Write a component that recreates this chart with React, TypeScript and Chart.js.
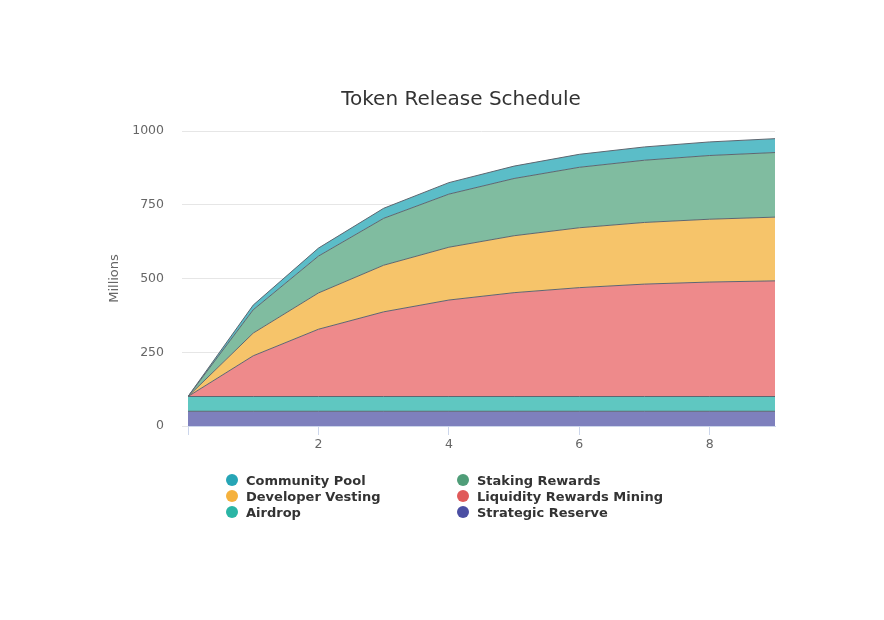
import React, { useEffect, useRef } from "react";
import { Chart, registerables } from "chart.js";

Chart.register(...registerables);

const chartTitle = "Token Release Schedule";
const yAxisTitle = "Millions";
const years = [0, 1, 2, 3, 4, 5, 6, 7, 8, 9];
const yTicks = [0, 250, 500, 750, 1000];
const xTicks = [0, 2, 4, 6, 8];

const strategicReserve = [50, 50, 50, 50, 50, 50, 50, 50, 50, 50];
const airdrop = [50, 50, 50, 50, 50, 50, 50, 50, 50, 50];
const liquidityRewardsMining = [0, 138, 228, 287, 327, 352, 369, 381, 388, 392];
const developerVesting = [0, 77, 123, 158, 179, 193, 203, 209, 213, 216];
const stakingRewards = [0, 79, 125, 159, 180, 194, 205, 211, 216, 219];
const communityPool = [0, 16, 27, 34, 39, 42, 44, 45, 46, 47];

const seriesNames = [
  "Strategic Reserve",
  "Airdrop",
  "Liquidity Rewards Mining",
  "Developer Vesting",
  "Staking Rewards",
  "Community Pool",
];
const seriesValues = [
  strategicReserve,
  airdrop,
  liquidityRewardsMining,
  developerVesting,
  stakingRewards,
  communityPool,
];
const fillColors = ["#7e80bd", "#5fc7c1", "#ee8a8b", "#f6c46a", "#80bca0", "#5bbdc8"];
const dotColors = ["#4b4fa3", "#2ab5a5", "#e05a5a", "#f5b13d", "#4f9d78", "#26a5b6"];

// legend layout: [seriesIndex, column, row]
const legendOrder = [
  [5, 0, 0],
  [4, 1, 0],
  [3, 0, 1],
  [2, 1, 1],
  [1, 0, 2],
  [0, 1, 2],
];

const FONT = "'DejaVu Sans', sans-serif";

export default function App() {
  const canvasRef = useRef<HTMLCanvasElement | null>(null);

  useEffect(() => {
    document.body.style.margin = "0";
    const canvas = canvasRef.current;
    if (!canvas) return;
    const datasets = seriesNames.map((name, i) => ({
      label: name,
      data: years.map((x, j) => ({ x, y: seriesValues[i][j] })),
      backgroundColor: fillColors[i],
      borderColor: "#5d6670",
      borderWidth: 1,
      pointRadius: 0,
      tension: 0,
      fill: i === 0 ? "origin" : "-1",
    }));
    const chart = new Chart(canvas, {
      type: "line",
      data: { datasets },
      options: {
        animation: false,
        responsive: false,
        maintainAspectRatio: false,
        layout: { padding: { top: 131, left: 100, right: 109, bottom: 164 } },
        plugins: {
          legend: { display: false },
          title: { display: false },
          tooltip: { enabled: false },
        },
        scales: {
          x: {
            type: "linear",
            min: 0,
            max: 9,
            afterBuildTicks: (scale: any) => {
              scale.ticks = xTicks.map((v) => ({ value: v }));
            },
            afterFit: (scale: any) => {
              scale.height = 30;
            },
            grid: {
              drawOnChartArea: false,
              drawTicks: true,
              tickLength: 9,
              color: "#ccd6eb",
            },
            border: { display: true, color: "#ccd6eb" },
            ticks: {
              padding: 2,
              color: "#666666",
              font: { family: FONT, size: 12.5 },
              maxRotation: 0,
              callback: (v: any) => (v === 0 ? "" : String(v)),
            },
          },
          y: {
            type: "linear",
            stacked: true,
            min: 0,
            max: 1000,
            afterBuildTicks: (scale: any) => {
              scale.ticks = yTicks.map((v) => ({ value: v }));
            },
            afterFit: (scale: any) => {
              scale.width = 88;
            },
            grid: {
              color: "#e6e6e6",
              drawTicks: true,
              tickLength: 6,
            },
            border: { display: false },
            ticks: {
              padding: 18,
              color: "#666666",
              font: { family: FONT, size: 12.5 },
              callback: (v: any) => String(v),
            },
            title: {
              display: true,
              text: yAxisTitle,
              color: "#666666",
              font: { family: FONT, size: 13 },
              padding: { top: 7, bottom: 0 },
            },
          },
        },
      },
    } as any);
    return () => chart.destroy();
  }, []);

  return (
    <div style={{ position: "absolute", left: 0, top: 0, width: 884, height: 620, background: "#ffffff" }}>
      <canvas ref={canvasRef} width={884} height={620} style={{ position: "absolute", left: 0, top: 0 }} />
      <div
        style={{
          position: "absolute",
          left: 261,
          width: 400,
          top: 85,
          textAlign: "center",
          fontFamily: FONT,
          fontSize: 20,
          color: "#333333",
          lineHeight: "26px",
        }}
      >
        {chartTitle}
      </div>
      {legendOrder.map(([idx, col, row]) => (
        <div
          key={idx}
          style={{
            position: "absolute",
            left: col === 0 ? 226 : 457,
            top: 472 + row * 16,
            height: 16,
            display: "flex",
            alignItems: "center",
            fontFamily: FONT,
            fontWeight: "bold",
            fontSize: 13,
            color: "#333333",
            whiteSpace: "nowrap",
          }}
        >
          <span
            style={{
              display: "inline-block",
              width: 12,
              height: 12,
              borderRadius: "50%",
              background: dotColors[idx],
              marginRight: 8,
            }}
          />
          {seriesNames[idx]}
        </div>
      ))}
    </div>
  );
}
